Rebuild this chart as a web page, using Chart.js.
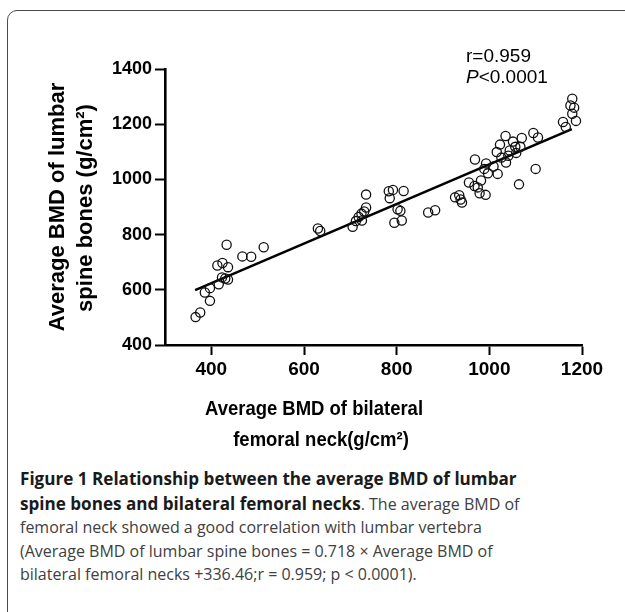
<!DOCTYPE html>
<html><head><meta charset="utf-8">
<script src="https://cdn.jsdelivr.net/npm/chart.js@4"></script>
<style>
html,body{margin:0;padding:0;background:#fff;width:625px;height:612px;overflow:hidden;}
#frame{position:absolute;left:7px;top:10px;width:700px;height:700px;border:1.6px solid #4a4a4a;border-radius:10px;box-sizing:border-box;}
#wrap{position:absolute;left:0;top:0;width:625px;height:460px;}
#cap{position:absolute;left:20px;top:467px;font-family:'Open Sans',sans-serif;font-size:16px;line-height:23.5px;color:#404040;white-space:nowrap;}
#cap b{color:#1a1a1a;font-size:17.1px;}
</style></head><body>
<div id="frame"></div>
<div id="wrap"><canvas id="c" width="625" height="460"></canvas></div>
<div id="cap"><b>Figure 1 Relationship between the average BMD of lumbar</b><br><b>spine bones and bilateral femoral necks</b>. The average BMD of<br>femoral neck showed a good correlation with lumbar vertebra<br>(Average BMD of lumbar spine bones = 0.718 × Average BMD of<br>bilateral femoral necks +336.46;r = 0.959; p &lt; 0.0001).</div>
<script>
// ---- data ----
const femoralNeck = [366,376,397,386,397,416,423,430,436,413,424,436,433,467,486,513,
  630,635,705,712,718,724,730,734,725,734,783,792,815,785,802,808,795,811,868,883,
  926,935,938,941,956,968,982,975,979,992,969,993,997,1009,1018,1016,1023,1035,1026,
  1036,1041,1051,1056,1058,1067,1070,1064,1044,1095,1105,1100,1159,1165,1179,1175,1183,1179,1187,989];
const lumbarSpine = [501,518,560,590,606,620,645,641,637,688,697,682,763,721,720,754,
  822,813,828,849,864,876,884,898,851,945,957,962,958,932,892,886,843,851,880,888,
  935,943,927,916,989,976,996,971,950,944,1072,1058,1022,1047,1020,1099,1126,1157,1079,
  1061,1086,1137,1118,1096,1118,1150,982,1105,1168,1152,1038,1208,1190,1292,1268,1260,1238,1212,1038];
const fitLineX = [365, 1178];
const fitLineY = [599, 1182];
const xTickValues = [400, 600, 800, 1000, 1200];
const yTickValues = [400, 600, 800, 1000, 1200, 1400];
const yTitleLines = ['Average BMD of lumbar', 'spine bones (g/cm²)'];
const xTitleLines = ['Average BMD of bilateral', 'femoral neck(g/cm²)'];
const statR = 'r=0.959';
const statP = ['P', '<0.0001'];

const FF = "'Liberation Sans', Arial, sans-serif";

const textPlugin = {
  id: 'texts',
  afterDraw(chart) {
    const ctx = chart.ctx;
    ctx.save();
    ctx.fillStyle = '#000';
    ctx.textBaseline = 'middle';
    ctx.textAlign = 'left';
    ctx.font = '19px ' + FF;
    ctx.fillText(statR, 466, 57);
    ctx.font = 'italic 19px ' + FF;
    ctx.fillText(statP[0], 466, 78);
    const w = ctx.measureText(statP[0]).width;
    ctx.font = '19px ' + FF;
    ctx.fillText(statP[1], 466 + w, 78);
    ctx.save();
    ctx.translate(58, 207);
    ctx.rotate(-Math.PI / 2);
    ctx.textAlign = 'center';
    ctx.font = 'bold 22px ' + FF;
    ctx.fillText(yTitleLines[0], 0, 0);
    ctx.fillText(yTitleLines[1], -1, 28);
    ctx.restore();
    ctx.textAlign = 'center';
    ctx.font = 'bold 21px ' + FF;
    ctx.save(); ctx.translate(314, 409); ctx.scale(0.88, 1); ctx.fillText(xTitleLines[0], 0, 0); ctx.restore();
    ctx.save(); ctx.translate(321, 440); ctx.scale(0.88, 1); ctx.fillText(xTitleLines[1], 0, 0); ctx.restore();
    ctx.restore();
  }
};

const pts = femoralNeck.map((x, i) => ({x: x, y: lumbarSpine[i]}));
const fit = fitLineX.map((x, i) => ({x: x, y: fitLineY[i]}));

new Chart(document.getElementById('c'), {
  type: 'scatter',
  data: {
    datasets: [
      {data: pts, pointStyle: 'circle', pointRadius: 4.6, pointHoverRadius: 4.6, borderWidth: 1.3,
       borderColor: '#111', backgroundColor: 'rgba(0,0,0,0)', showLine: false, clip: false},
      {type: 'line', data: fit, borderColor: '#000', borderWidth: 2.6, pointRadius: 0, showLine: true, fill: false}
    ]
  },
  options: {
    responsive: false,
    animation: false,
    devicePixelRatio: 1,
    layout: {padding: {left: 0, right: 43, top: 69, bottom: 0}},
    plugins: {legend: {display: false}, tooltip: {enabled: false}},
    scales: {
      x: {
        type: 'linear', min: 300, max: 1200,
        afterBuildTicks(s) { s.ticks = xTickValues.map(v => ({value: v})); },
        afterFit(s) { s.height = 115; },
        grid: {drawOnChartArea: false, drawTicks: true, tickLength: 10, tickWidth: 2, tickColor: '#000'},
        border: {display: true, color: '#000', width: 2.6},
        ticks: {color: '#000', font: {family: FF, size: 19, weight: 'bold'}, padding: 3, maxRotation: 0,
                callback: v => String(v)}
      },
      y: {
        type: 'linear', min: 400, max: 1400,
        afterBuildTicks(s) { s.ticks = yTickValues.map(v => ({value: v})); },
        afterFit(s) { s.width = 165; },
        grid: {drawOnChartArea: false, drawTicks: true, tickLength: 10, tickWidth: 2, tickColor: '#000'},
        border: {display: true, color: '#000', width: 2.6},
        ticks: {color: '#000', font: {family: FF, size: 18, weight: 'bold'}, padding: 3,
                callback: v => String(v)}
      }
    }
  },
  plugins: [textPlugin]
});
</script>
</body></html>
